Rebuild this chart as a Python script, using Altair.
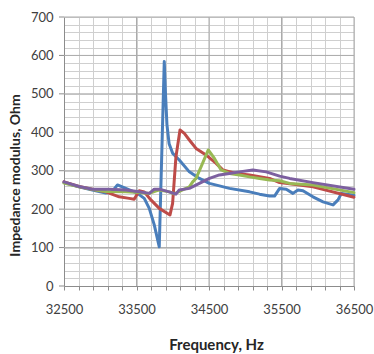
import altair as alt
import pandas as pd

# ---- data ----
blue_f = [32500, 32707, 32892, 33077, 33150, 33237, 33353, 33514, 33607, 33676, 33745, 33814,
          33883, 33900, 33920, 33950, 34000, 34090, 34229, 34367, 34506, 34782, 35059, 35197,
          35335, 35404, 35474, 35566, 35658, 35727, 35796, 35934, 36073, 36211, 36280, 36326, 36500]
blue_v = [269, 258, 250, 242, 243, 263, 254, 241, 228, 202, 159, 102,
          584, 500, 420, 370, 345, 328, 297, 280, 267, 254, 245, 239,
          234, 234, 254, 252, 241, 250, 248, 232, 219, 211, 224, 241, 236]

red_f = [32500, 32707, 32892, 33077, 33261, 33399, 33468, 33537, 33607, 33699, 33814, 33962,
         33998, 34044, 34100, 34160, 34229, 34321, 34459, 34598, 34690, 34874, 35059, 35335,
         35474, 35612, 35934, 36500]
red_v = [271, 259, 252, 245, 232, 228, 226, 248, 245, 224, 202, 185,
         215, 336, 406, 397, 380, 358, 341, 319, 302, 293, 289, 280,
         269, 266, 258, 231]

green_f = [32500, 32707, 32892, 33077, 33353, 33537, 33676, 33814, 33952, 34020, 34136, 34229,
           34275, 34321, 34390, 34490, 34575, 34667, 34782, 34920, 35059, 35197, 35335, 35474,
           35612, 35934, 36500]
green_v = [268, 258, 251, 246, 245, 243, 241, 250, 245, 240, 250, 258,
           271, 280, 310, 354, 332, 302, 293, 289, 284, 280, 276, 274,
           267, 263, 243]

purple_f = [32500, 32707, 32892, 33122, 33353, 33537, 33676, 33745, 33814, 33952, 34044, 34090,
            34229, 34367, 34506, 34644, 34782, 34920, 35105, 35289, 35474, 35612, 35934, 36500]
purple_v = [271, 259, 252, 252, 250, 245, 241, 252, 252, 245, 239, 250,
            254, 267, 280, 289, 293, 297, 302, 297, 286, 280, 269, 252]

series_names = ["S1", "S2", "S3", "S4"]
series_colors = ["#4A7EBB", "#BE4B48", "#98B954", "#7D60A0"]

x_grid = list(range(32500, 36501, 200))
y_grid = list(range(0, 701, 20))
x_major = [33500, 34500, 35500, 36500]
y_major = [100, 200, 300, 400, 500, 600, 700]
y_ticks = [0, 100, 200, 300, 400, 500, 600, 700]

# ---- build tables ----
frames = []
for name, fs, vs in zip(series_names, [blue_f, red_f, green_f, purple_f],
                        [blue_v, red_v, green_v, purple_v]):
    frames.append(pd.DataFrame({"f": fs, "v": vs, "s": name}))
lines_df = pd.concat(frames, ignore_index=True)

font = "Lato"
x_scale = alt.Scale(domain=[32500, 36500], nice=False, zero=False)
y_scale = alt.Scale(domain=[0, 700], nice=False, zero=True)

x_axis = alt.Axis(
    values=x_grid, format="d", grid=True, gridColor="#cfcfcf", gridWidth=1,
    ticks=True, tickSize=4, tickColor="#8c8c8c", domainColor="#8c8c8c",
    labelExpr="(datum.value - 32500) % 1000 == 0 ? datum.label : ''",
    labelOverlap=False, labelFlush=False, labelFont=font, labelFontSize=13,
    labelColor="#404040", labelPadding=13,
    title="Frequency, Hz", titleFont=font, titleFontSize=15, titleFontWeight="bold",
    titleColor="#262626", titleX=152, titleY=58, titleBaseline="middle", titleAlign="center",
)
y_axis = alt.Axis(
    values=y_grid, format="d", grid=True, gridColor="#cfcfcf", gridWidth=1,
    ticks=False, domainColor="#8c8c8c",
    labelExpr="datum.value % 100 == 0 ? datum.label : ''",
    labelOverlap=False, labelFont=font, labelFontSize=13, labelColor="#404040",
    labelPadding=11,
    title="Impedance modulus, Ohm", titleFont=font, titleFontSize=14,
    titleFontWeight="bold", titleColor="#262626", titleX=-49, titleY=158,
    titleAngle=-90, titleAlign="center", titleBaseline="middle",
)

X = alt.X("f:Q", scale=x_scale, axis=x_axis)
Y = alt.Y("v:Q", scale=y_scale, axis=y_axis)

vgrid = alt.Chart(pd.DataFrame({"f": x_major})).mark_rule(
    color="#ababab", strokeWidth=1).encode(x=X)
hgrid = alt.Chart(pd.DataFrame({"v": y_major})).mark_rule(
    color="#ababab", strokeWidth=1).encode(y=Y)
yticks = alt.Chart(pd.DataFrame({"v": y_ticks})).mark_rule(
    color="#8c8c8c", strokeWidth=1).encode(y=Y, x=alt.value(-5), x2=alt.value(0))

layers = [vgrid, hgrid, yticks]
for name, col in zip(series_names, series_colors):
    layers.append(
        alt.Chart(lines_df).transform_filter(alt.datum.s == name)
        .mark_line(color=col, strokeWidth=3, strokeJoin="round", strokeCap="round")
        .encode(x=X, y=Y, order="f:Q")
    )

chart = alt.layer(*layers).properties(
    width=290, height=269,
    autosize=alt.AutoSizeParams(type="none"),
    padding={"left": 64, "top": 17, "right": 20, "bottom": 68},
    background="white",
).configure_view(stroke=None)

chart.save("out.html", embed_options={"renderer": "svg", "actions": False})
